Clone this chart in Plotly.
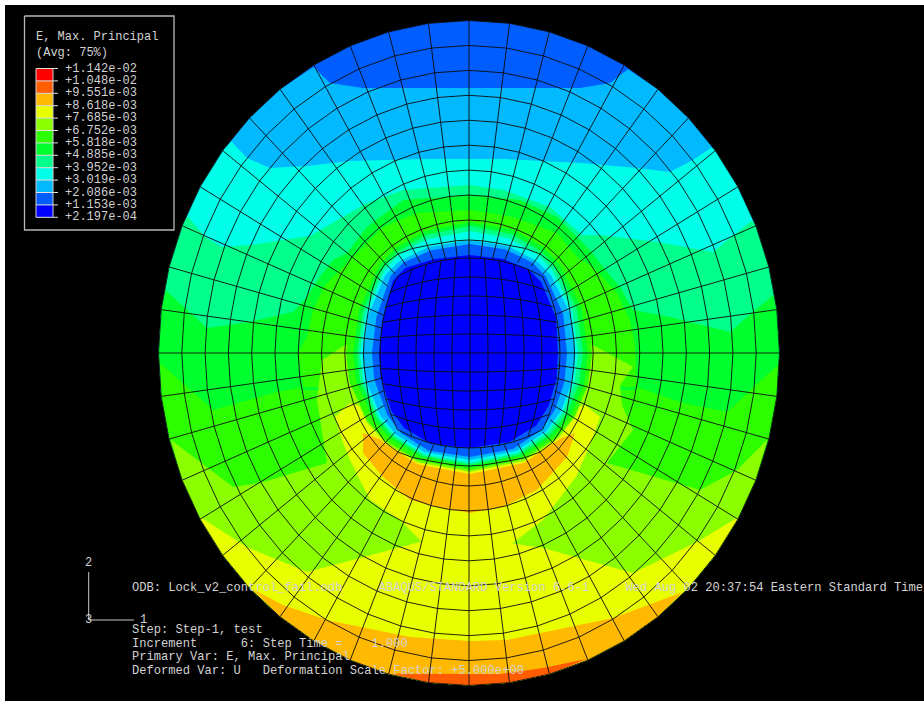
import math
import plotly.graph_objects as go

# ---- contour legend ----
legend_values = ["+1.142e-02", "+1.048e-02", "+9.551e-03", "+8.618e-03", "+7.685e-03", "+6.752e-03",
                 "+5.818e-03", "+4.885e-03", "+3.952e-03", "+3.019e-03", "+2.086e-03", "+1.153e-03", "+2.197e-04"]
band_colors = ["#ff0000", "#ff5d00", "#ffb900", "#e8ff00", "#8bff00", "#2eff00",
               "#00ff2e", "#00ff8b", "#00ffe8", "#00b9ff", "#005dff", "#0000ff"]
RED, RORANGE, ORANGE, YELLOW, LIME, GREEN2, GREEN1, MINT, CYAN, SKY, MIDBLUE, BLUE = band_colors

# ---- mesh (model coordinates) ----
cx, cy, rx, ry = 469.0, 353.0, 310.5, 332.5
# (ring fraction, how far the ring bulges out at the 45 degree corners)
mesh_rings = [(1, 0), (0.925, 0), (0.85, 0), (0.775, 0), (0.70, 0), (0.625, 0), (0.55, 0), (0.475, 0),
              (0.40, 0.02), (0.34, 0.12)]
block_edge = (0.285, 0.18)
sector_degrees = 7.5
block_cells = 10
block_half_x, block_half_y = 90.0, 95.0

# ---- iso-band boundaries, left to right across the disc ----
curve_sky = [(313, 66), (330, 83), (363, 88), (410, 88), (537, 88), (580, 88), (610, 83), (628, 69)]
curve_cyan = [(232, 142), (247, 158), (270, 168), (307, 166), (350, 161), (427, 159), (503, 159),
              (580, 163), (637, 168), (670, 172), (693, 160), (712, 147)]
curve_mint = [(185, 215), (205, 237), (222, 247), (250, 245), (310, 236), (333, 237), (600, 235),
              (657, 242), (713, 252), (753, 220)]
curve_green1 = [(165, 290), (207, 328), (250, 322), (293, 312), (470, 300), (633, 310), (670, 317),
                (730, 332), (753, 312), (775, 295)]
curve_green2 = [(158, 363), (213, 410), (277, 392), (303, 387), (637, 387), (683, 403), (727, 412), (778, 365)]
curve_lime = [(170, 440), (233, 487), (260, 483), (327, 463), (607, 463), (700, 490), (737, 470), (768, 440)]
curve_yellow = [(200, 518), (247, 547), (307, 572), (353, 560), (420, 542), (470, 537), (543, 548),
                (633, 573), (697, 542), (737, 518)]
curve_orange = [(251, 590), (283, 605), (327, 620), (410, 637), (470, 641), (507, 640), (613, 618), (682, 592)]
curve_rorange = [(393, 675), (430, 674), (500, 674), (543, 668), (587, 661)]

blob_mint = [(310, 236), (367, 203), (403, 190), (470, 185), (503, 190), (550, 207), (580, 233), (600, 257),
             (600, 300), (340, 300)]
blob_green1 = [(293, 312), (307, 297), (320, 277), (333, 260), (347, 253), (367, 227), (403, 200), (470, 195),
               (520, 200), (557, 217), (590, 250), (603, 267), (620, 287), (633, 310), (637, 390), (300, 390)]
blob_green2 = [(303, 387), (298, 353), (307, 337), (313, 310), (325, 285), (350, 260), (363, 247), (383, 227),
               (417, 213), (470, 210), (513, 217), (557, 233), (577, 257), (593, 267), (617, 293), (630, 320),
               (635, 345), (637, 387)]
blob_lime = [(345, 345), (322, 360), (317, 400), (322, 430), (327, 463), (400, 530), (470, 540), (540, 530),
             (607, 463), (633, 430), (622, 405), (620, 385), (633, 367), (593, 345)]
blob_yellow = [(350, 403), (335, 417), (342, 440), (350, 460), (370, 500), (400, 520), (425, 545), (510, 545),
               (543, 520), (576, 477), (590, 445), (600, 417), (585, 405), (470, 440)]
blob_orange = [(363, 433), (363, 453), (383, 477), (410, 500), (437, 507), (470, 513), (503, 507), (537, 490),
               (567, 457), (575, 433), (530, 450), (470, 470), (410, 450)]

core_outline = [(470, 255), (503, 258), (530, 267), (543, 280), (557, 317), (558, 353), (557, 380), (550, 407),
                (538, 427), (510, 443), (470, 448), (430, 445), (403, 430), (390, 412), (380, 377), (379, 353),
                (382, 320), (390, 278), (403, 265), (433, 258)]
# colour, left, right, top, bottom extents of the bands wrapped round the pin, roundness
hole_rings = [(YELLOW, 345, 593, 353, 474, 0.85), (LIME, 345, 593, 353, 472, 0.85), (GREEN2, 346, 592, 220, 470, 0.85),
              (GREEN1, 353, 588, 222, 467, 0.85), (MINT, 357, 583, 226, 465, 0.85), (CYAN, 360, 578, 231, 463, 0.8),
              (SKY, 363, 575, 240, 460, 0.7), (MIDBLUE, 372, 567, 244, 457, 0.55), (BLUE, 379, 558, 255, 448, 0.25)]

# ---- texts ----
legend_title = ["E, Max. Principal", "(Avg: 75%)"]
info_lines = [
    (587.5, "ODB: Lock_v2_control_fail.odb     ABAQUS/STANDARD Version 6.6-1     Wed Aug 02 20:37:54 Eastern Standard Time"),
    (629.5, "Step: Step-1, test"),
    (643.5, "Increment      6: Step Time =    1.000"),
    (657, "Primary Var: E, Max. Principal"),
    (670.5, "Deformed Var: U   Deformation Scale Factor: +5.000e+00"),
]
triad_labels = [(88, 563, "2"), (143, 620, "1"), (88, 620, "3")]

FONT = "Liberation Mono"
TEXT = "#d2d2d2"
MESH = "#0c0c0c"

fig = go.Figure()


def poly(points, color):
    fig.add_trace(go.Scatter(x=[p[0] for p in points] + [points[0][0]], y=[p[1] for p in points] + [points[0][1]],
                             mode="lines", fill="toself", fillcolor=color, line=dict(width=0, color=color),
                             hoverinfo="skip", showlegend=False))


def line(xs, ys, color=MESH, width=0.9):
    fig.add_trace(go.Scatter(x=xs, y=ys, mode="lines", line=dict(color=color, width=width),
                             hoverinfo="skip", showlegend=False))


def node(fr, deg, bulge=0.0):
    a = math.radians(deg)
    f = fr * (1 + bulge * math.sin(2 * a) ** 4)
    return cx + f * rx * math.cos(a), cy + f * ry * math.sin(a)


def below(curve):
    """Close a left-to-right curve along the disc edge through the bottom."""
    def ang(p):
        return math.degrees(math.atan2((p[1] - cy) / ry, (p[0] - cx) / rx))
    a0, a1 = ang(curve[-1]), ang(curve[0])
    if a1 < a0:
        a1 += 360
    k = math.ceil(a0 / sector_degrees)
    arc = []
    while k * sector_degrees < a1:
        arc.append(node(1, k * sector_degrees))
        k += 1
    return [node(0.995, a1)] + list(curve[1:-1]) + [node(0.995, a0)] + arc


def ring_shape(left, right, top, bottom, roundness):
    pts = []
    c0, c1 = 470.0, 353.0
    for x, y in core_outline:
        ux = (x - c0) / (88.0 if x > c0 else 91.0)
        uy = (y - c1) / (95.0 if y > c1 else 98.0)
        n = math.hypot(ux, uy)
        ux, uy = (1 - roundness) * ux + roundness * ux / n, (1 - roundness) * uy + roundness * uy / n
        pts.append((c0 + ux * ((right - c0) if ux > 0 else (c0 - left)),
                    c1 + uy * ((bottom - c1) if uy > 0 else (c1 - top))))
    return pts


# background panel
poly([(5, 5), (924, 5), (924, 701), (5, 701)], "#000000")

n_sect = int(round(360 / sector_degrees))
poly([node(1, i * sector_degrees) for i in range(n_sect)], MIDBLUE)
for curve, col in [(curve_sky, SKY), (curve_cyan, CYAN), (curve_mint, MINT), (curve_green1, GREEN1),
                   (curve_green2, GREEN2), (curve_lime, LIME), (curve_yellow, YELLOW), (curve_orange, ORANGE),
                   (curve_rorange, RORANGE)]:
    poly(below(curve), col)
for blob, col in [(blob_mint, MINT), (blob_green1, GREEN1), (blob_green2, GREEN2), (blob_lime, LIME),
                  (blob_yellow, YELLOW), (blob_orange, ORANGE)]:
    poly(blob, col)
for col, l, r, t, b, w in hole_rings:
    poly(ring_shape(l, r, t, b, w), col)

# mesh: rings
for fr, bulge in mesh_rings:
    pts = [node(fr, i * sector_degrees, bulge) for i in range(n_sect + 1)]
    line([p[0] for p in pts], [p[1] for p in pts])
# mesh: radial lines through every ring down to the pin
for i in range(n_sect):
    deg = i * sector_degrees
    pts = [node(fr, deg, bulge) for fr, bulge in mesh_rings] + [node(block_edge[0], deg, block_edge[1])]
    line([p[0] for p in pts], [p[1] for p in pts])


# mesh: central block
def block(u, v):
    return (470 + block_half_x * u * math.sqrt(1 - 0.35 * v * v),
            353 + block_half_y * v * math.sqrt(1 - 0.35 * u * u))


steps = [-1 + 2 * k / block_cells for k in range(block_cells + 1)]
for u in steps:
    pts = [block(u, v) for v in steps]
    line([p[0] for p in pts], [p[1] for p in pts])
    pts = [block(v, u) for v in steps]
    line([p[0] for p in pts], [p[1] for p in pts])

# legend box
box = [24.5, 174, 16, 230]
line([box[0], box[1], box[1], box[0], box[0]], [box[2], box[2], box[3], box[3], box[2]], "#b8b8b8", 1.3)
top_y, step_y = 68.5, 12.4
for i, col in enumerate(band_colors):
    y0, y1 = top_y + i * step_y, top_y + (i + 1) * step_y
    poly([(36, y0), (53, y0), (53, y1), (36, y1)], col)
for i, lab in enumerate(legend_values):
    y = top_y + i * step_y
    line([36, 58], [y, y], "#e0e0e0", 1)
    fig.add_annotation(x=63, y=y, text=lab, showarrow=False, xanchor="left", yanchor="middle",
                       font=dict(family=FONT, size=12, color=TEXT))
line([36, 36], [top_y, top_y + 12 * step_y], "#d0d0d0", 1)
line([53, 53], [top_y, top_y + 12 * step_y], "#d0d0d0", 1)

for y, t in zip([37, 53], legend_title):
    fig.add_annotation(x=34, y=y, text=t, showarrow=False, xanchor="left", yanchor="middle",
                       font=dict(family=FONT, size=12, color=TEXT))

# triad
line([88.7, 88.7], [572, 620], "#c8c8c8", 1)
line([88.7, 134], [620, 620], "#c8c8c8", 1)
for x, y, t in triad_labels:
    fig.add_annotation(x=x, y=y, text=t, showarrow=False, xanchor="center", yanchor="middle",
                       font=dict(family=FONT, size=12, color=TEXT))

for y, t in info_lines:
    fig.add_annotation(x=130, y=y, text=t.replace(" ", "\u00a0"), showarrow=False, xanchor="left", yanchor="middle",
                       font=dict(family=FONT, size=12.1, color=TEXT))

fig.update_layout(width=924, height=701, margin=dict(l=0, r=0, t=0, b=0), paper_bgcolor="#ffffff",
                  plot_bgcolor="#ffffff", showlegend=False,
                  xaxis=dict(range=[0, 924], visible=False, fixedrange=True),
                  yaxis=dict(range=[701, 0], visible=False, fixedrange=True))
fig.write_html("out.html", config={"displayModeBar": False},
               post_script="document.body.style.margin='0';document.body.style.overflow='hidden';")
